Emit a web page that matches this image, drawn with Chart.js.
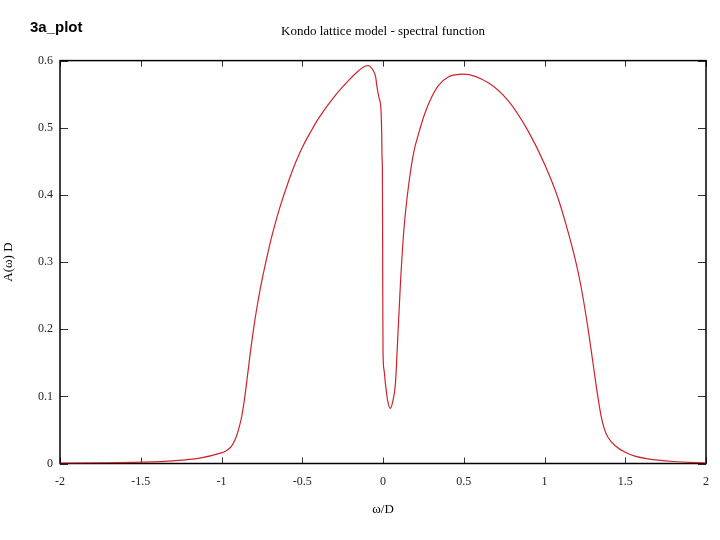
<!DOCTYPE html>
<html>
<head>
<meta charset="utf-8">
<script src="https://cdn.jsdelivr.net/npm/chart.js@4.4.1/dist/chart.umd.min.js"></script>
<style>
  html, body { margin: 0; padding: 0; background: #fff; }
  #wrap { position: relative; width: 720px; height: 540px; }
  #tag { position: absolute; left: 30px; top: 18px; font: bold 15px "Liberation Sans", Arial, sans-serif; color: #000; }
  canvas { display: block; }
</style>
</head>
<body>
<div id="wrap">
  <canvas id="c" width="720" height="540"></canvas>
  <div id="tag">3a_plot</div>
</div>
<script>
// ---- data ----
const omega = [
  -2.0, -1.75, -1.5, -1.3, -1.135, -1.012, -0.97, -0.94, -0.915, -0.895, -0.875, -0.858,
  -0.838, -0.82, -0.80, -0.785, -0.77, -0.746, -0.72, -0.694, -0.67, -0.643, -0.581, -0.54,
  -0.499, -0.45, -0.396, -0.293, -0.211, -0.16, -0.13, -0.108, -0.09, -0.075, -0.06,
  -0.046, -0.036, -0.025, -0.012, -0.008, -0.006, -0.004, -0.002,
  0.0, 0.006, 0.015, 0.03, 0.046, 0.06, 0.077, 0.09, 0.108, 0.13, 0.16, 0.19, 0.22,
  0.26, 0.30, 0.344, 0.406, 0.498, 0.652, 0.776, 0.899, 1.002, 1.084, 1.146, 1.18,
  1.21, 1.24, 1.27, 1.30, 1.33, 1.352, 1.37, 1.393, 1.44, 1.496, 1.56, 1.64, 1.8, 2.0
];
const spectral = [
  0.0005, 0.001, 0.002, 0.004, 0.008, 0.015, 0.019, 0.025, 0.036, 0.05, 0.07, 0.095,
  0.133, 0.168, 0.203, 0.226, 0.247, 0.277, 0.306, 0.333, 0.355, 0.378, 0.423, 0.449,
  0.471, 0.493, 0.515, 0.549, 0.571, 0.583, 0.589, 0.592, 0.5925, 0.590, 0.585,
  0.576, 0.559, 0.545, 0.525, 0.49, 0.455, 0.44, 0.30,
  0.168, 0.14, 0.119, 0.092, 0.082, 0.092, 0.119, 0.18, 0.268, 0.35, 0.417, 0.463, 0.491,
  0.522, 0.545, 0.563, 0.576, 0.580, 0.567, 0.540, 0.495, 0.445, 0.395, 0.345, 0.314,
  0.283, 0.245, 0.20, 0.15, 0.10, 0.069, 0.052, 0.039, 0.026, 0.017, 0.011, 0.007, 0.003, 0.0005
];
const xTickLabels = ['-2', '-1.5', '-1', '-0.5', '0', '0.5', '1', '1.5', '2'];
const yTickLabels = ['0', '0.1', '0.2', '0.3', '0.4', '0.5', '0.6'];
const chartTitle = 'Kondo lattice model - spectral function';
const xTitle = 'ω/D';
const yTitle = 'A(ω) D';

const points = omega.map((w, i) => ({ x: w, y: spectral[i] }));

const frameTicks = {
  id: 'frameTicks',
  beforeDatasetsDraw(chart) {
    const { ctx, chartArea: { left, right, top, bottom }, scales: { x, y } } = chart;
    ctx.save();
    ctx.strokeStyle = '#333';
    ctx.lineWidth = 1;
    ctx.beginPath();
    x.ticks.forEach(t => {
      const px = Math.round(x.getPixelForValue(t.value)) + 0.5;
      ctx.moveTo(px, bottom); ctx.lineTo(px, bottom - 6);
      ctx.moveTo(px, top); ctx.lineTo(px, top + 6);
    });
    y.ticks.forEach(t => {
      const py = Math.round(y.getPixelForValue(t.value)) + 0.5;
      ctx.moveTo(left, py); ctx.lineTo(left + 8, py);
      ctx.moveTo(right, py); ctx.lineTo(right - 8, py);
    });
    ctx.stroke();
    ctx.strokeStyle = '#000';
    ctx.lineWidth = 1.5;
    ctx.strokeRect(left, top, right - left, bottom - top);
    ctx.restore();
  }
};

const serif = '"Liberation Serif", "Times New Roman", serif';

new Chart(document.getElementById('c'), {
  type: 'line',
  data: {
    datasets: [{
      data: points,
      borderColor: 'rgb(205,35,45)',
      borderWidth: 1.2,
      pointRadius: 0,
      fill: false,
      cubicInterpolationMode: 'monotone'
    }]
  },
  options: {
    responsive: false,
    animation: false,
    layout: { padding: { left: 0, right: 11.5, top: 0, bottom: 0 } },
    plugins: {
      legend: { display: false },
      tooltip: { enabled: false },
      title: {
        display: true,
        text: chartTitle,
        fullSize: false,
        color: '#000',
        font: { family: serif, size: 13, weight: 'normal' },
        padding: { top: 24, bottom: 21 }
      }
    },
    scales: {
      x: {
        type: 'linear',
        min: -2, max: 2,
        grid: { display: false, drawTicks: false },
        border: { display: false },
        ticks: {
          stepSize: 0.5,
          padding: 11,
          color: '#222',
          maxRotation: 0,
          font: { family: serif, size: 12 },
          callback: (v, i) => xTickLabels[i]
        },
        title: {
          display: true, text: xTitle, color: '#000',
          font: { family: serif, size: 13 },
          padding: { top: 0, bottom: 23 }
        },
        afterFit: s => { s.height = 76.5; }
      },
      y: {
        type: 'linear',
        min: 0, max: 0.6,
        grid: { display: false, drawTicks: false },
        border: { display: false },
        ticks: {
          stepSize: 0.1,
          padding: 7,
          color: '#222',
          font: { family: serif, size: 12 },
          callback: (v, i) => yTickLabels[i]
        },
        title: {
          display: true, text: yTitle, color: '#000',
          font: { family: serif, size: 13 },
          padding: { top: 1, bottom: 0 }
        },
        afterFit: s => { s.width = 60; }
      }
    }
  },
  plugins: [frameTicks]
});
</script>
</body>
</html>
